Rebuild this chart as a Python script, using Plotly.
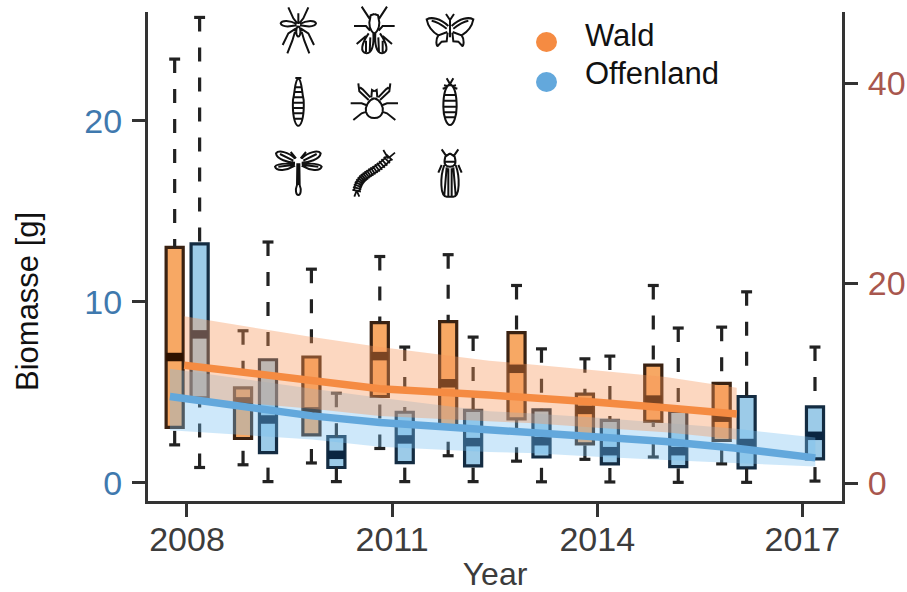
import re
import numpy as np
import plotly.graph_objects as go

# ---------- data (left-axis units) ----------
years_wald = [2008, 2009, 2010, 2011, 2012, 2013, 2014, 2015, 2016]
wald_low = [2.1, 1.0, 1.1, 1.9, 1.5, 1.2, 1.3, 1.43, 1.05]
wald_q1 = [3.06, 2.45, 2.65, 4.77, 3.1, 3.53, 2.15, 3.4, 2.34]
wald_med = [6.95, 4.5, 3.95, 7.0, 5.5, 6.3, 4.03, 4.6, 3.6]
wald_q3 = [13.0, 5.25, 6.95, 8.85, 8.9, 8.3, 4.9, 6.5, 5.5]
wald_high = [23.4, 8.4, 11.8, 12.5, 12.6, 10.9, 6.85, 10.9, 8.6]

years_off = [2008, 2009, 2010, 2011, 2012, 2013, 2014, 2015, 2016, 2017]
off_low = [0.85, 0.07, 0.07, 0.07, 0.07, 0.06, 0.05, 0.03, 0.03, 0.1]
off_q1 = [4.7, 1.67, 0.85, 1.12, 0.94, 1.43, 1.05, 0.9, 0.83, 1.33]
off_med = [8.2, 3.5, 1.55, 2.4, 2.25, 2.3, 1.75, 1.75, 2.2, 2.6]
off_q3 = [13.2, 6.8, 2.55, 3.9, 4.0, 4.03, 3.45, 3.95, 4.77, 4.2]
off_high = [25.7, 13.3, 4.95, 7.5, 8.05, 7.4, 7.0, 8.55, 10.55, 7.5]

trend_x_wald = [2007.96, 2009.83, 2010.82, 2012.42, 2013.0, 2014.0, 2015.0, 2016.04]
trend_wald = [6.5, 5.6, 5.2, 4.85, 4.72, 4.45, 4.15, 3.8]
band_wald_hi = [9.2, 8.05, 7.5, 6.75, 6.55, 6.2, 5.85, 5.25]
band_wald_lo = [4.7, 4.1, 3.7, 3.4, 3.3, 3.05, 2.8, 2.4]

trend_x_off = [2007.75, 2009.83, 2010.82, 2012.42, 2013.0, 2014.0, 2015.0, 2016.0, 2017.19]
trend_off = [4.77, 3.7, 3.33, 2.93, 2.83, 2.56, 2.28, 1.93, 1.38]
band_off_hi = [6.3, 5.2, 4.7, 3.95, 3.85, 3.6, 3.3, 3.0, 2.5]
band_off_lo = [2.9, 2.4, 2.0, 1.7, 1.65, 1.45, 1.27, 1.1, 0.9]

left_ticks = [0, 10, 20]
right_ticks = [0, 20, 40]
x_ticks = [2008, 2011, 2014, 2017]
legend_names = ["Wald", "Offenland"]

# ---------- style ----------
FONT = "Liberation Sans"
OR_FILL, OR_EDGE, OR_MED = "#F7A864", "#3A2212", "#2E1200"
BL_FILL, BL_EDGE, BL_MED = "#9CCBE8", "#142C42", "#0A2540"
OR_LINE, BL_LINE = "#F58B42", "#63A8DC"
W, H = 907, 592
L, R, T, B = 148, 842, 12, 501
OFF_W, OFF_B, BOX_W, CAP = -0.18, 0.185, 0.25, 0.08


def whisker_xy(xs, lows, q1s, q3s, highs):
    wx, wy, cx, cy = [], [], [], []
    for x, lo, a, b, hi in zip(xs, lows, q1s, q3s, highs):
        wx += [x, x, None, x, x, None]
        wy += [hi, b, None, lo, a, None]
        cx += [x - CAP, x + CAP, None, x - CAP, x + CAP, None]
        cy += [hi, hi, None, lo, lo, None]
    return wx, wy, cx, cy


def median_xy(xs, meds):
    mx, my = [], []
    for x, m in zip(xs, meds):
        mx += [x - BOX_W / 2, x + BOX_W / 2, None]
        my += [m, m, None]
    return mx, my


fig = go.Figure()


def add_boxes(years, off, lo, q1, med, q3, hi, fill, edge, medc):
    xs = [y + off for y in years]
    wx, wy, cx, cy = whisker_xy(xs, lo, q1, q3, hi)
    fig.add_trace(go.Scatter(x=wx, y=wy, mode="lines", showlegend=False, hoverinfo="skip",
                             line=dict(color="#222222", width=3.2, dash="14px,16px")))
    fig.add_trace(go.Scatter(x=cx, y=cy, mode="lines", showlegend=False, hoverinfo="skip",
                             line=dict(color="#222222", width=3.2)))
    fig.add_trace(go.Box(x=xs, q1=q1, median=med, q3=q3, lowerfence=q1, upperfence=q3,
                         width=BOX_W, fillcolor=fill, line=dict(color=edge, width=3.2),
                         whiskerwidth=0, boxpoints=False, showlegend=False, hoverinfo="skip"))
    mx, my = median_xy(xs, med)
    fig.add_trace(go.Scatter(x=mx, y=my, mode="lines", showlegend=False, hoverinfo="skip",
                             line=dict(color=medc, width=8.5)))


add_boxes(years_wald, OFF_W, wald_low, wald_q1, wald_med, wald_q3, wald_high, OR_FILL, OR_EDGE, OR_MED)
add_boxes(years_off, OFF_B, off_low, off_q1, off_med, off_q3, off_high, BL_FILL, BL_EDGE, BL_MED)


def add_band(x, lo, hi, color):
    fig.add_trace(go.Scatter(x=list(x) + list(x)[::-1], y=list(hi) + list(lo)[::-1], fill="toself",
                             fillcolor=color, mode="none", showlegend=False, hoverinfo="skip"))


add_band(trend_x_off, band_off_lo, band_off_hi, "rgba(120,190,240,0.36)")
add_band(trend_x_wald, band_wald_lo, band_wald_hi, "rgba(246,150,90,0.38)")
fig.add_trace(go.Scatter(x=trend_x_wald, y=trend_wald, mode="lines", showlegend=False, hoverinfo="skip",
                         line=dict(color=OR_LINE, width=7.5)))
fig.add_trace(go.Scatter(x=trend_x_off, y=trend_off, mode="lines", showlegend=False, hoverinfo="skip",
                         line=dict(color=BL_LINE, width=7.5)))

# invisible trace so the right axis exists
fig.add_trace(go.Scatter(x=[2008], y=[0], yaxis="y2", mode="markers", marker=dict(opacity=0),
                         showlegend=False, hoverinfo="skip"))

# ---------- insect pictograms: decorative line art (drawn in 3x crop pixel space) ----------
NUM = re.compile(r"(-?\d+\.?\d*),(-?\d+\.?\d*)")


def mirror(path, cx):
    return NUM.sub(lambda m: f"{2 * cx - float(m[1])},{m[2]}", path)


def to_paper(path):
    def f(m):
        px = 260 + float(m[1]) / 3
        py = float(m[2]) / 3
        return f"{(px - L) / (R - L):.5f},{(B - py) / (B - T):.5f}"
    return NUM.sub(f, path)


def icon(half, cx, center=""):
    full = " ".join([half, mirror(half, cx), center])
    fig.add_shape(type="path", path=to_paper(full), xref="paper", yref="paper",
                  line=dict(color="#111111", width=2), layer="above")


# mosquito
icon("M85,22 L100,55 L112,70 M110,72 C90,60 65,60 62,70 C65,82 90,80 110,76 "
     "M108,85 L85,100 L68,135 M105,95 L97,122 L82,160 M115,78 C105,85 108,108 115,110", 115,
     "M115,40 L115,72")
# fly
icon("M305,20 L330,58 M343,42 L332,46 L328,68 C328,90 340,100 343,100 M282,78 L318,78 L330,92 "
     "M290,132 L318,108 M326,100 C305,130 298,158 320,160 C338,160 342,130 340,100 "
     "M318,122 L318,156 M331,112 L329,158", 343)
# butterfly
icon("M558,42 L570,60 M565,78 C540,55 515,50 500,58 C505,85 525,100 535,106 L562,96 "
     "M515,62 C530,65 550,78 560,86 M535,106 C525,120 530,138 533,138 L545,125 L560,124 L563,98", 570,
     "M570,60 L570,112")
# larva
icon("M115,235 C104,240 106,270 99,300 C97,340 103,375 115,378", 115,
     "M103,262 L127,262 M101,276 L129,276 M99,292 L131,292 M98,308 L132,308 M98,324 L132,324 "
     "M100,340 L130,340 M102,356 L128,356 M106,234 L124,234")
# tick / spider
icon("M343,295 C325,300 315,320 318,335 C322,350 335,354 343,354 M334,292 L336,270 L343,274 "
     "M326,300 L298,274 L295,250 M318,315 L305,310 L272,310 M320,335 L305,340 L280,360 "
     "M331,292 L308,268 L300,262", 343)
# wingless insect
icon("M570,252 C555,260 550,290 550,320 C550,350 560,375 570,375 M560,235 L570,252 "
     "M548,266 L562,262 M552,256 L562,258", 570,
     "M553,285 L587,285 M551,302 L589,302 M550,320 L590,320 M552,337 L588,337 M556,352 L584,352 M565,256 L575,256")
# dragonfly
icon("M105,476 C85,455 55,450 48,460 C50,478 85,488 105,488 M105,492 C80,490 50,490 45,500 "
     "C50,515 80,512 105,497 M60,462 L100,482 M55,500 L100,495 M92,456 L108,475 "
     "M112,490 L111,555 C105,570 108,585 115,585 M118,490 L115,555", 115)
# cicada
icon("M545,448 L560,470 M570,460 L556,470 C550,490 555,500 570,500 M553,495 C540,530 540,590 560,590 L570,590 "
     "M560,502 L553,585 M565,505 L565,588 M545,495 L535,518", 570, "M555,485 L585,485")

# centipede (one curved body)
t = np.linspace(0, 1, 20)
P = np.array([[290, 572], [298, 520], [340, 525], [388, 472]], float)
curve = np.outer((1 - t) ** 3, P[0]) + np.outer(3 * (1 - t) ** 2 * t, P[1]) + np.outer(3 * (1 - t) * t ** 2, P[2]) + np.outer(t ** 3, P[3])
tang = np.gradient(curve, axis=0)
norm = np.c_[-tang[:, 1], tang[:, 0]]
norm /= np.linalg.norm(norm, axis=1, keepdims=True)
parts = []
for s, w in ((1, 8), (-1, 8)):
    edge = curve + s * w * norm
    parts.append("M" + " L".join(f"{a:.1f},{b:.1f}" for a, b in edge))
for c, n in zip(curve, norm):
    a, b = c + 13 * n, c - 13 * n
    parts.append(f"M{a[0]:.1f},{a[1]:.1f} L{b[0]:.1f},{b[1]:.1f}")
parts += ["M385,476 L370,450", "M388,472 L405,458", "M290,572 L283,590", "M290,572 L298,590"]
fig.add_shape(type="path", path=to_paper(" ".join(parts)), xref="paper", yref="paper",
              line=dict(color="#111111", width=1.8), layer="above")

# ---------- legend (hand placed) ----------
for name, color, ty, my in zip(legend_names, [OR_LINE, BL_LINE], [47, 85], [42, 82]):
    fig.add_annotation(text=name, x=(585 - L) / (R - L), y=(B - ty) / (B - T), xref="paper", yref="paper",
                       xanchor="left", yanchor="bottom", showarrow=False, yshift=-8, xshift=-2,
                       font=dict(family=FONT, size=31, color="#111111"))
    fig.add_shape(type="circle", xref="paper", yref="paper", layer="above",
                  x0=(536 - L) / (R - L), x1=(557 - L) / (R - L),
                  y0=(B - my - 10) / (B - T), y1=(B - my + 10) / (B - T),
                  fillcolor=color, line=dict(width=0))

# y axis title, placed off-centre as in the source
fig.add_annotation(text="Biomasse [g]", textangle=-90, x=(27 - L) / (R - L), y=(B - 302) / (B - T),
                   xref="paper", yref="paper", xanchor="center", yanchor="middle", showarrow=False,
                   font=dict(family=FONT, size=31, color="#111111"))

AX = "#333333"
fig.update_layout(
    width=W, height=H, autosize=False,
    margin=dict(l=L, r=W - R, t=T, b=H - B),
    paper_bgcolor="white", plot_bgcolor="white",
    boxmode="overlay", showlegend=False,
    font=dict(family=FONT),
    xaxis=dict(range=[2007.43, 2017.58], tickmode="array", tickvals=x_ticks, ticks="outside",
               ticklen=13, tickwidth=2.8, tickcolor=AX, showgrid=False, zeroline=False, automargin=False,
               showline=True, linecolor=AX, linewidth=3, ticklabelstandoff=-7,
               tickfont=dict(family=FONT, size=34, color="#3c3c3c"),
               title=dict(text="Year", standoff=7, font=dict(family=FONT, size=32, color="#3c3c3c"))),
    yaxis=dict(range=[-1.0, 26.0], tickmode="array", tickvals=left_ticks, ticks="outside",
               ticklen=13, tickwidth=2.8, tickcolor=AX, showgrid=False, zeroline=False, automargin=False,
               showline=True, linecolor=AX, linewidth=3, ticklabelstandoff=3,
               tickfont=dict(family=FONT, size=34, color="#3F79AE")),
    yaxis2=dict(range=[-1.8, 47.1], overlaying="y", side="right", tickmode="array", tickvals=right_ticks,
                ticks="outside", ticklen=13, tickwidth=2.8, tickcolor=AX, showgrid=False, zeroline=False, automargin=False,
                showline=True, linecolor=AX, linewidth=3, ticklabelstandoff=3,
                tickfont=dict(family=FONT, size=34, color="#A8574E")),
)

fig.write_html("out.html", config=dict(displayModeBar=False),
               post_script="document.body.style.margin='0';document.documentElement.style.overflow='hidden';")
